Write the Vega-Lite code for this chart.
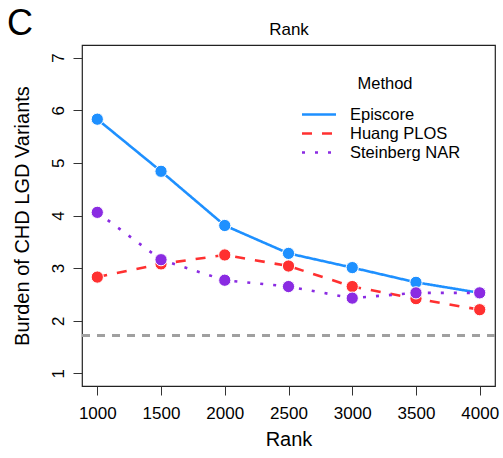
{
  "$schema": "https://vega.github.io/schema/vega-lite/v6.json",
  "width": 413,
  "height": 341,
  "autosize": {"type": "none"},
  "padding": {"left": 82, "top": 45, "right": 8, "bottom": 72},
  "background": "white",
  "config": {
    "font": "Liberation Sans",
    "view": {"stroke": "#222222", "strokeWidth": 1.2},
    "axis": {"grid": false, "labelColor": "black", "titleColor": "black", "tickColor": "#333333", "titleFontWeight": "normal"}
  },
  "title": {"text": "C", "anchor": "start", "frame": "bounds", "fontSize": 36, "fontWeight": "normal", "color": "black", "offset": 0, "dx": -5, "dy": 23},
  "data": {
    "values": [
      {"Rank": 1000, "Method": "Episcore", "Burden": 5.83},
      {"Rank": 1500, "Method": "Episcore", "Burden": 4.84},
      {"Rank": 2000, "Method": "Episcore", "Burden": 3.81},
      {"Rank": 2500, "Method": "Episcore", "Burden": 3.28},
      {"Rank": 3000, "Method": "Episcore", "Burden": 3.01},
      {"Rank": 3500, "Method": "Episcore", "Burden": 2.73},
      {"Rank": 4000, "Method": "Episcore", "Burden": 2.53},
      {"Rank": 1000, "Method": "Huang PLOS", "Burden": 2.83},
      {"Rank": 1500, "Method": "Huang PLOS", "Burden": 3.08},
      {"Rank": 2000, "Method": "Huang PLOS", "Burden": 3.25},
      {"Rank": 2500, "Method": "Huang PLOS", "Burden": 3.04},
      {"Rank": 3000, "Method": "Huang PLOS", "Burden": 2.65},
      {"Rank": 3500, "Method": "Huang PLOS", "Burden": 2.42},
      {"Rank": 4000, "Method": "Huang PLOS", "Burden": 2.21},
      {"Rank": 1000, "Method": "Steinberg NAR", "Burden": 4.06},
      {"Rank": 1500, "Method": "Steinberg NAR", "Burden": 3.16},
      {"Rank": 2000, "Method": "Steinberg NAR", "Burden": 2.77},
      {"Rank": 2500, "Method": "Steinberg NAR", "Burden": 2.65},
      {"Rank": 3000, "Method": "Steinberg NAR", "Burden": 2.43},
      {"Rank": 3500, "Method": "Steinberg NAR", "Burden": 2.53},
      {"Rank": 4000, "Method": "Steinberg NAR", "Burden": 2.53}
    ]
  },
  "layer": [
    {
      "mark": {"type": "rule", "stroke": "#A0A0A0", "strokeDash": [8, 7], "strokeWidth": 1.5},
      "encoding": {
        "y": {"datum": 1.72, "type": "quantitative", "scale": {"domain": [0.76, 7.24], "nice": false, "zero": false}}
      }
    },
    {
      "mark": {"type": "line", "strokeWidth": 2.6, "strokeCap": "butt"},
      "encoding": {
        "x": {"field": "Rank", "type": "quantitative", "scale": {"domain": [880, 4120], "nice": false, "zero": false},
          "axis": {"title": "Rank", "orient": "bottom", "values": [1000, 1500, 2000, 2500, 3000, 3500, 4000], "format": "d", "domain": false, "tickSize": 9, "labelFontSize": 17, "labelPadding": 10, "titleFontSize": 20, "titlePadding": 8, "labelFlush": false}},
        "y": {"field": "Burden", "type": "quantitative", "scale": {"domain": [0.76, 7.24], "nice": false, "zero": false},
          "axis": {"title": "Burden of CHD LGD Variants", "values": [1, 2, 3, 4, 5, 6, 7], "domain": false, "tickSize": 9, "labelAngle": 270, "labelAlign": "center", "labelBaseline": "bottom", "labelPadding": 6, "labelFontSize": 17, "titleFontSize": 20, "titlePadding": 17}},
        "color": {"field": "Method", "type": "nominal",
          "scale": {"domain": ["Episcore", "Huang PLOS", "Steinberg NAR"], "range": ["#1E90FF", "#FF3030", "#8A2BE2"]},
          "legend": {"title": "Method", "orient": "none", "legendX": 227, "legendY": 31, "symbolType": "M-2,0H2", "symbolSize": 289, "symbolStrokeWidth": 2.6, "labelFontSize": 16.5, "titleFontSize": 16.5, "titleFontWeight": "normal", "titleAnchor": "middle", "labelOffset": 21, "rowPadding": -1, "titlePadding": 12, "labelColor": "black", "titleColor": "black"}},
        "strokeDash": {"field": "Method", "type": "nominal",
          "scale": {"domain": ["Episcore", "Huang PLOS", "Steinberg NAR"], "range": [[1, 0], [10, 10], [3, 10]]},
          "legend": {"title": "Method", "orient": "none", "legendX": 227, "legendY": 31, "symbolType": "M-2,0H2", "symbolSize": 289, "symbolStrokeWidth": 2.6, "labelFontSize": 16.5, "titleFontSize": 16.5, "titleFontWeight": "normal", "titleAnchor": "middle", "labelOffset": 21, "rowPadding": -1, "titlePadding": 12, "labelColor": "black", "titleColor": "black"}}
      }
    },
    {
      "mark": {"type": "point", "filled": true, "size": 150, "stroke": "white", "strokeWidth": 1, "opacity": 1},
      "encoding": {
        "x": {"field": "Rank", "type": "quantitative",
          "axis": {"title": "Rank", "orient": "top", "labels": false, "ticks": false, "domain": false, "titleFontSize": 17, "titlePadding": 7}},
        "y": {"field": "Burden", "type": "quantitative"},
        "fill": {"field": "Method", "type": "nominal", "scale": {"domain": ["Episcore", "Huang PLOS", "Steinberg NAR"], "range": ["#1E90FF", "#FF3030", "#8A2BE2"]}, "legend": null}
      }
    }
  ],
  "resolve": {"axis": {"x": "independent"}}
}
